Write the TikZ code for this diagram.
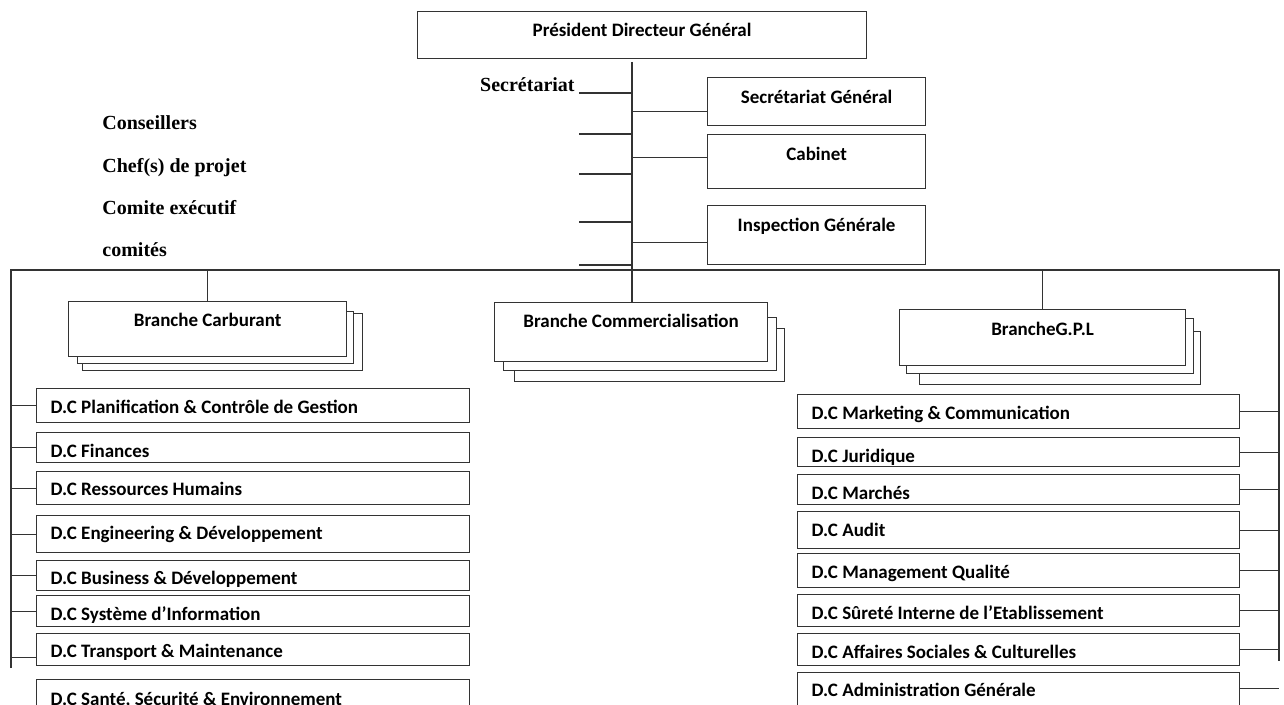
\documentclass[tikz,border=0pt]{standalone}
\usepackage{fontspec}
\setmainfont{Liberation Serif}
\setsansfont{Carlito}

\begin{document}
\begin{tikzpicture}[x=0.5pt,y=-0.5pt,
wire/.style={draw=black!80,line width=0.6pt},
box/.style={draw=black!80,line width=0.6pt,fill=white,inner sep=0pt,anchor=north west,font=\sffamily\bfseries\fontsize{9.5}{11}\selectfont,text height=6pt},
head/.style={box,text depth=#1},
stack/.style={box},
dc/.style={box,align=flush left,inner xsep=7pt,text depth=0pt,text height=#1},
dcl/.style={dc=#1,text width=202.5pt,minimum width=216.5pt},
dcr/.style={dc=#1,text width=207pt,minimum width=221pt},
side/.style={font=\bfseries\fontsize{10}{12}\selectfont,inner sep=0pt}
]
\useasboundingbox (0,0) rectangle (1284,705);
\clip (0,0) rectangle (1284,705);

\node[head=4.4pt,minimum width=224.5pt,minimum height=23.5pt] (pdg) at (417,11) {Président Directeur Général};
\node[head=4.4pt,minimum width=109pt,minimum height=24pt] (sg) at (707,77) {Secrétariat Général};
\node[head=6.9pt,minimum width=109pt,minimum height=27pt] (cab) at (707,134) {Cabinet};
\node[head=9.4pt,minimum width=109pt,minimum height=29.5pt] (ig) at (707,205) {Inspection Générale};

\node[side,anchor=base east] (secr) at (575,92) {Secrétariat};
\node[side,anchor=base west] (cons) at (102,130) {Conseillers};
\node[side,anchor=base west] (chef) at (102,173) {Chef(s) de projet};
\node[side,anchor=base west] (comex) at (102,215) {Comite exécutif};
\node[side,anchor=base west] (comi) at (102,257) {comités};

\coordinate (t0) at (632,62);
\coordinate (k0) at (579,93);
\coordinate (k1) at (579,134);
\coordinate (k2) at (579,174);
\coordinate (k3) at (579,222);
\coordinate (k4) at (579,265);
\coordinate (sgin) at ([yshift=-5pt]sg.west);
\coordinate (cabin) at ([yshift=2pt]cab.west);
\coordinate (igin) at ([yshift=-3.75pt]ig.west);
\coordinate (busL) at (11,270);
\coordinate (busR) at (1279,270);
\coordinate (lbot) at (11,668);
\coordinate (rbot) at (1279,661);

% branches, back copies first
\node[stack,minimum width=140pt,minimum height=28.5pt] (carb2) at (82,313) {};
\node[stack,minimum width=138pt,minimum height=26pt] (carb1) at (77,311) {};
\node[head=8.4pt,minimum width=139pt,minimum height=27.5pt] (carb) at (68,301) {Branche Carburant};
\node[stack,minimum width=135pt,minimum height=26.5pt] (comm2) at (514,328) {};
\node[stack,minimum width=136.5pt,minimum height=26.5pt] (comm1) at (503,317) {};
\node[head=10.4pt,minimum width=136.5pt,minimum height=29.5pt] (comm) at (494,302) {Branche Commercialisation};
\node[stack,minimum width=140.5pt,minimum height=26.5pt] (gpl2) at (919,331) {};
\node[stack,minimum width=143.5pt,minimum height=27.5pt] (gpl1) at (906,318) {};
\node[head=7.9pt,minimum width=143pt,minimum height=28pt] (gpl) at (899,309) {BrancheG.P.L};

% left column
\node[dcl=8.1pt,minimum height=17pt] (plan) at (36,388) {D.C Planification \& Contrôle de Gestion};
\node[dcl=9.6pt,minimum height=15pt] (fin) at (36,432) {D.C Finances};
\node[dcl=7.6pt,minimum height=16.5pt] (rh) at (36,471) {D.C Ressources Humains};
\node[dcl=5.6pt,minimum height=18.5pt] (eng) at (36,515) {D.C Engineering \& Développement};
\node[dcl=8.6pt,minimum height=15pt] (bus) at (36,560) {D.C Business \& Développement};
\node[dcl=9.1pt,minimum height=15.5pt] (si) at (36,595) {D.C Système d’Information};
\node[dcl=8.1pt,minimum height=16pt] (trans) at (36,633) {D.C Transport \& Maintenance};
\node[dcl=6.1pt,minimum height=19.5pt] (hse) at (36,679) {D.C Santé, Sécurité \& Environnement};

% right column
\node[dcr=8.1pt,minimum height=17pt] (mkt) at (797,394) {D.C Marketing \& Communication};
\node[dcr=10.1pt,minimum height=14.5pt] (jur) at (797,437) {D.C Juridique};
\node[dcr=10.1pt,minimum height=15pt] (mar) at (797,474) {D.C Marchés};
\node[dcr=6.6pt,minimum height=18.5pt] (aud) at (797,511) {D.C Audit};
\node[dcr=8.1pt,minimum height=17pt] (mq) at (797,553) {D.C Management Qualité};
\node[dcr=9.1pt,minimum height=16pt] (sur) at (797,594) {D.C Sûreté Interne de l’Etablissement};
\node[dcr=9.1pt,minimum height=16pt] (aff) at (797,633) {D.C Affaires Sociales \& Culturelles};
\node[dcr=6.1pt,minimum height=18pt] (adm) at (797,672) {D.C Administration Générale};

% trunk and bus
\draw[wire] (t0) -- (t0 |- comm.north);
\draw[wire] (lbot) -- (busL) -- (busR) -- (rbot);
\foreach \k in {k0,k1,k2,k3,k4} \draw[wire] (\k) -- (\k -| t0);
\draw[wire] (sgin -| t0) -- (sgin);
\draw[wire] (cabin -| t0) -- (cabin);
\draw[wire] (igin -| t0) -- (igin);
\draw[wire] (carb.north) -- (carb.north |- busL);
\draw[wire] (gpl.north) -- (gpl.north |- busR);

\foreach \b in {plan,fin,rh,eng,bus,si} \draw[wire] (\b.west -| busL) -- (\b.west);
\draw[wire] ([yshift=-4pt]trans.west -| busL) -- ([yshift=-4pt]trans.west);
\foreach \b in {mkt,jur,mar,aud,mq,sur,aff} \draw[wire] (\b.east) -- (\b.east -| busR);
\draw[wire] ([yshift=1pt]adm.east) -- ([yshift=1pt]adm.east -| busR);
\end{tikzpicture}
\end{document}
